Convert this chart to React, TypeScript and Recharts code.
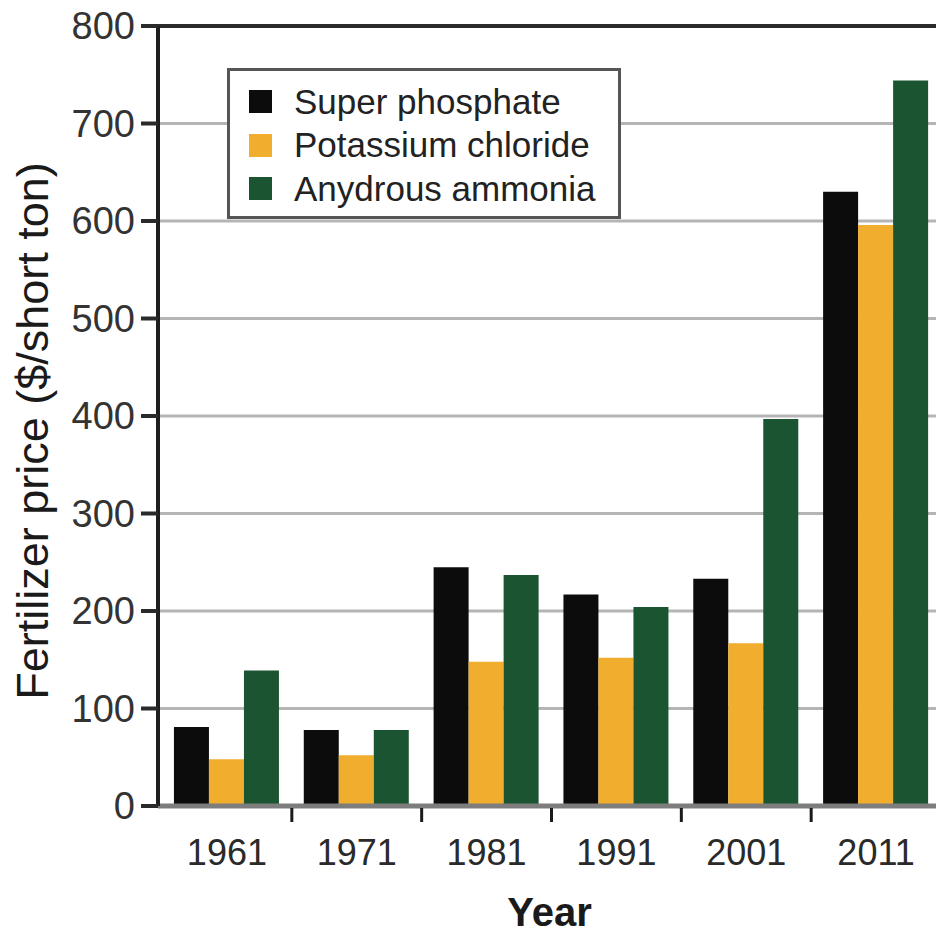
import React from "react";
import {
  BarChart,
  Bar,
  XAxis,
  YAxis,
  CartesianGrid,
  Legend,
  ReferenceLine,
} from "recharts";

const years = ["1961", "1971", "1981", "1991", "2001", "2011"];
const superPhosphate = [81, 78, 245, 217, 233, 630];
const potassiumChloride = [48, 52, 148, 152, 167, 596];
const anhydrousAmmonia = [139, 78, 237, 204, 397, 744];
const yTicks = [0, 100, 200, 300, 400, 500, 600, 700, 800];

const series = [
  { key: "super", name: "Super phosphate", color: "#0c0c0c", values: superPhosphate },
  { key: "potash", name: "Potassium chloride", color: "#f0ad2e", values: potassiumChloride },
  { key: "ammonia", name: "Anydrous ammonia", color: "#1a5430", values: anhydrousAmmonia },
];

const data = years.map((year, i) => ({
  year,
  super: superPhosphate[i],
  potash: potassiumChloride[i],
  ammonia: anhydrousAmmonia[i],
}));

const FONT = "'Liberation Sans', Arial, sans-serif";

function YearTick(props: any) {
  const { x, y, payload, index } = props;
  const half = payload?.offset ?? 64.9;
  return (
    <g>
      <text
        x={x}
        y={y + 59}
        textAnchor="middle"
        fontSize={36}
        fontFamily={FONT}
        fill="#2a2a2a"
      >
        {payload.value}
      </text>
      {index < years.length - 1 && (
        <line
          x1={x + half}
          x2={x + half}
          y1={y + 2}
          y2={y + 16}
          stroke="#1a1a1a"
          strokeWidth={3}
        />
      )}
    </g>
  );
}

// legend keeps the series order (Recharts sorts its payload otherwise)
function LegendBox() {
  return (
    <div
      style={{
        border: "3px solid #555",
        background: "#fff",
        boxSizing: "border-box",
        height: 151,
        padding: "9px 0 0 19px",
        fontFamily: FONT,
      }}
    >
      {series.map((s) => (
        <div
          key={s.key}
          style={{ display: "flex", alignItems: "center", height: 43.5 }}
        >
          <span
            style={{
              width: 23,
              height: 23,
              background: s.color,
              display: "inline-block",
              marginRight: 22,
            }}
          />
          <span style={{ fontSize: 35, color: "#222", whiteSpace: "nowrap" }}>
            {s.name}
          </span>
        </div>
      ))}
    </div>
  );
}

export default function App() {
  return (
    <div
      style={{
        position: "absolute",
        left: 0,
        top: 0,
        width: 936,
        height: 935,
        overflow: "hidden",
        background: "#fff",
      }}
    >
      <BarChart
        width={941}
        height={935}
        data={data}
        margin={{ top: 26, right: 0, bottom: 0, left: 0 }}
        barCategoryGap="9.2%"
        barGap={0}
      >
        <CartesianGrid
          vertical={false}
          stroke="#b5b5b5"
          strokeWidth={3}
        />
        <ReferenceLine y={800} stroke="#2b2b2b" strokeWidth={4} />
        <XAxis
          dataKey="year"
          height={129}
          padding={{ left: 4, right: 0 }}
          axisLine={{ stroke: "#7d7d7d", strokeWidth: 5 }}
          tickLine={false}
          tickSize={0}
          tickMargin={0}
          tick={<YearTick />}
          interval={0}
          label={{
            value: "Year",
            position: "insideBottom",
            offset: 9,
            fontSize: 40,
            fontFamily: FONT,
            fontWeight: 600,
            fill: "#1a1a1a",
          }}
        />
        <YAxis
          width={158}
          domain={[0, 800]}
          ticks={yTicks}
          interval={0}
          axisLine={{ stroke: "#1e1e1e", strokeWidth: 4 }}
          tickLine={{ stroke: "#2a2a2a", strokeWidth: 4 }}
          tickSize={17}
          tickMargin={6}
          tick={{ fontSize: 38, fontFamily: FONT, fill: "#333" }}
          label={{
            content: () => (
              <text
                x={48}
                y={431}
                transform="rotate(-90, 48, 431)"
                textAnchor="middle"
                fontSize={45}
                fontFamily={FONT}
                fontWeight={500}
                fill="#1a1a1a"
              >
                Fertilizer price ($/short ton)
              </text>
            ),
          }}
        />
        <Legend
          layout="horizontal"
          verticalAlign="middle"
          align="center"
          content={<LegendBox />}
          wrapperStyle={{ left: 227, top: 68, width: 394, height: 151 }}
        />
        {series.map((s) => (
          <Bar
            key={s.key}
            dataKey={s.key}
            name={s.name}
            fill={s.color}
            isAnimationActive={false}
          />
        ))}
      </BarChart>
    </div>
  );
}
